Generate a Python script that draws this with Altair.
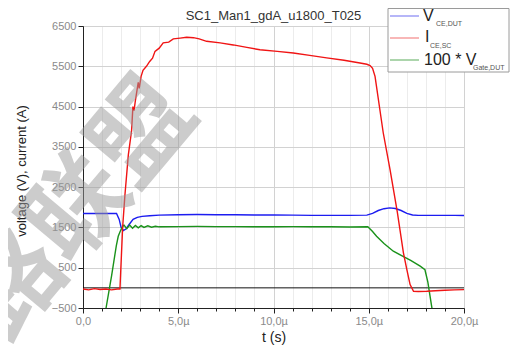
import altair as alt
import pandas as pd

FONT = "Liberation Sans"

# ---------------- data (time in µs) ----------------
blue_t = [0, 0.5, 1.0, 1.5, 1.76, 1.9, 2.0, 2.12, 2.25, 2.4, 2.63, 2.85, 3.1, 3.5, 4.0, 5, 6, 7, 8, 9, 10, 11, 12, 13, 14,
          14.9, 15.2, 15.5, 15.8, 16.1, 16.4, 16.7, 17.0, 17.3, 17.6, 18.5, 19.5, 20]
blue_v = [1845, 1850, 1845, 1850, 1845, 1700, 1500, 1420, 1460, 1560, 1700, 1750, 1775, 1790, 1805, 1815, 1820, 1815, 1815,
          1810, 1810, 1805, 1800, 1800, 1800, 1805, 1850, 1920, 1965, 1985, 1970, 1920, 1850, 1810, 1800, 1800, 1800, 1795]

green_t = [1.0, 1.21, 1.5, 1.75, 1.85, 1.95, 2.05, 2.15, 2.3, 2.45, 2.6, 2.75, 2.9, 3.05, 3.2, 3.4, 3.6, 3.8, 4.0, 5, 6, 7,
           8, 9, 10, 11, 12, 13, 14, 14.95, 15.2, 15.41, 15.8, 16.29, 16.8, 17.2, 17.7, 17.95, 18.1, 18.3, 18.5]
green_v = [-1100, -500, 300, 1050, 1280, 1400, 1500, 1560, 1470, 1560, 1480, 1550, 1490, 1545, 1500, 1540, 1505, 1530,
           1515, 1520, 1525, 1520, 1520, 1515, 1515, 1520, 1515, 1515, 1510, 1515, 1400, 1280, 1100, 910, 780, 680, 540,
           450, 150, -456, -1000]

red_t = [0, 0.3, 0.6, 0.9, 1.2, 1.5, 1.8, 1.94, 2.08, 2.2, 2.38, 2.55, 2.62, 2.68, 2.75, 2.85, 2.9, 2.95, 3.05, 3.15,
         3.33, 3.5, 3.65, 3.78, 4.0, 4.21, 4.5, 4.74, 5.1, 5.44, 5.8, 6.1, 6.49, 7.2, 7.89, 8.6, 9.29, 10.2, 11.04, 11.9,
         12.79, 13.7, 14.54, 14.9, 15.07, 15.2, 15.33, 15.76, 16.12, 16.5, 16.82, 17.0, 17.17, 17.35, 17.6, 18.05, 18.5,
         19.0, 19.5, 20]
red_v = [-30, -50, -20, -40, -30, -50, -30, -30, 1500, 2300, 3300, 3900, 4500, 4400, 4650, 4950, 5100, 4950, 5250, 5400,
         5500, 5620, 5700, 5870, 5950, 6080, 6100, 6180, 6200, 6220, 6210, 6180, 6120, 6080, 6030, 5970, 5910, 5870, 5830,
         5770, 5710, 5650, 5580, 5550, 5520, 5450, 5250, 3850, 2930, 1880, 870, 450, 80, -85, -90, -85, -70, -60, -50, -45]

x_ticks = list(range(0, 21))
y_ticks = list(range(-500, 6501, 250))

title_text = "SC1_Man1_gdA_u1800_T025"
x_title = "t (s)"
y_title = "voltage (V), current (A)"
watermark = "路联盟"

BLUE, RED, GREEN = "#1c1cf0", "#f01414", "#1a921a"

# ---------------- scales / axes ----------------
major_x = "datum.value % 5 === 0"
major_y = "datum.value % 500 === 0"

x_axis = alt.Axis(
    values=x_ticks, title=x_title,
    labelExpr="datum.value % 5 === 0 ? (datum.value === 0 ? '0,0' : replace(format(datum.value, '.1f'), '.', ',') + 'µ') : ''",
    tickSize={"condition": {"test": major_x, "value": 5}, "value": 3},
    gridColor={"condition": {"test": major_x, "value": "#d2d2d2"}, "value": "#ececec"},
    labelColor="#8a8a8a", labelFontSize=11, labelFont=FONT, labelPadding=2,
    titleFont=FONT, titleFontSize=14, titleFontWeight="normal", titleColor="#222", titlePadding=4,
    domainColor="#222", tickColor="#222", labelFlush=False,
)
y_axis = alt.Axis(
    values=y_ticks, title=None,
    labelExpr=f"{major_y} ? format(datum.value, 'd') : ''",
    tickSize={"condition": {"test": major_y, "value": 5}, "value": 3},
    gridColor={"condition": {"test": major_y, "value": "#d2d2d2"}, "value": "#ececec"},
    labelColor="#8a8a8a", labelFontSize=11, labelFont=FONT, labelPadding=2,
    domainColor="#222", tickColor="#222",
)
xs = alt.Scale(domain=[0, 20], nice=False, zero=False)
ys = alt.Scale(domain=[-500, 6500], nice=False, zero=False)


def series(t, v, color):
    df = pd.DataFrame({"t": t, "v": v})
    return alt.Chart(df).mark_line(color=color, strokeWidth=1.4, clip=True).encode(
        x=alt.X("t:Q", scale=xs, axis=x_axis),
        y=alt.Y("v:Q", scale=ys, axis=y_axis),
    )


one = pd.DataFrame({"a": [0]})

zero_line = alt.Chart(one).mark_rule(color="#111", strokeWidth=1).encode(y=alt.datum(0))

blue = series(blue_t, blue_v, BLUE)
green = series(green_t, green_v, GREEN)
red = series(red_t, red_v, RED)


def txt(s, x, y, size, color="#222", align="left"):
    return alt.Chart(one).mark_text(text=s, fontSize=size, font=FONT, align=align, baseline="alphabetic",
                                    color=color).encode(x=alt.value(x), y=alt.value(y))


# ---------------- titles as text ----------------
title = txt(title_text, 190.5, -6, 13, "#333", align="center")
ytitle = alt.Chart(one).mark_text(text=y_title, fontSize=13, font=FONT, angle=270, align="center",
                                  baseline="middle", color="#222").encode(x=alt.value(-61), y=alt.value(145))

# ---------------- hand-built legend ----------------
leg_box = alt.Chart(one).mark_rect(fill="white", stroke="#9a9a9a", strokeWidth=1).encode(
    x=alt.value(305), x2=alt.value(426), y=alt.value(-17.5), y2=alt.value(46))


def leg_line(y, color):
    return alt.Chart(one).mark_rule(color=color, strokeWidth=1.3).encode(
        x=alt.value(307), x2=alt.value(336), y=alt.value(y))


legend = [
    leg_box,
    leg_line(-10, "#8f8ff5"), leg_line(12, "#f59090"), leg_line(34, "#7fbf7f"),
    txt("V", 340, -5, 16), txt("CE,DUT", 353, 0, 7, "#555"),
    txt("I", 342, 16, 16), txt("CE,SC", 347, 22, 7, "#555"),
    txt("100 * V", 341, 39, 16), txt("Gate,DUT", 390, 44, 7, "#555"),
]

wm = alt.Chart(one).mark_text(text=watermark, font="Noto Sans CJK SC", fontSize=100, fontWeight="bold",
                              angle=310, color="#9a9a9a", opacity=0.5, align="center", baseline="middle").encode(
    x=alt.value(-3), y=alt.value(184))

chart = alt.layer(zero_line, blue, green, red, title, ytitle, *legend, wm).properties(
    width=381, height=282,
    padding={"left": 75, "top": 18, "right": 46, "bottom": 39},
    autosize=alt.AutoSizeParams(type="none"),
).configure_view(stroke="#222", strokeWidth=1).configure_axis(grid=True)

chart.save("out.html", embed_options={"renderer": "svg", "actions": False})
